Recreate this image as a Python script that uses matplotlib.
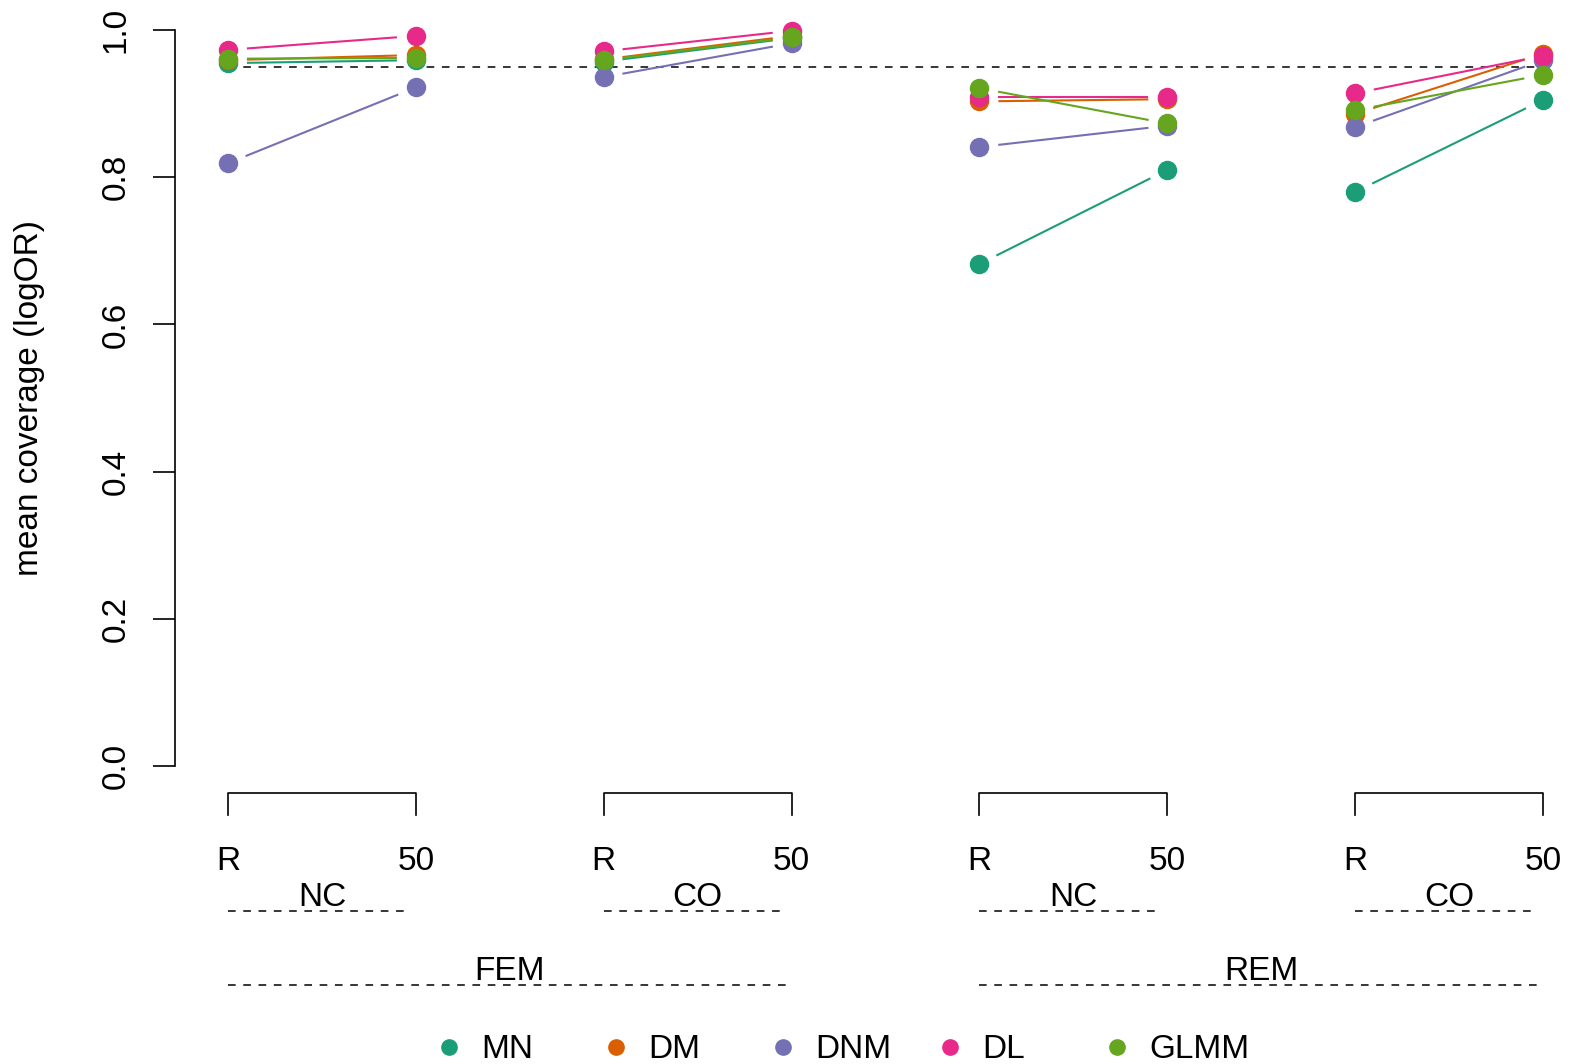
import numpy as np
import matplotlib
matplotlib.use("Agg")
import matplotlib.pyplot as plt

plt.rcParams['font.family'] = ['Liberation Sans', 'DejaVu Sans']

# x positions: R / 50 for NC, CO within FEM and REM
x_labels = ["R", "50", "R", "50", "R", "50", "R", "50"]
sub_groups = ["NC", "CO", "NC", "CO"]
main_groups = ["FEM", "REM"]

methods = ["MN", "DM", "DNM", "DL", "GLMM"]
colors = ["#1B9E77", "#D95F02", "#7570B3", "#E7298A", "#66A61E"]

MN = [0.955, 0.959, 0.957, 0.989, 0.682, 0.810, 0.780, 0.905]
DM = [0.959, 0.966, 0.960, 0.992, 0.903, 0.906, 0.886, 0.968]
DNM = [0.819, 0.922, 0.936, 0.982, 0.841, 0.870, 0.868, 0.959]
DL = [0.973, 0.992, 0.971, 0.999, 0.909, 0.909, 0.914, 0.965]
GLMM = [0.961, 0.962, 0.959, 0.990, 0.921, 0.873, 0.891, 0.939]
series = [MN, DM, DNM, DL, GLMM]

nominal = 0.95

W, H = 1570, 1064
fig = plt.figure(figsize=(W / 100, H / 100), dpi=100)
ax = fig.add_axes([175 / W, 1 - 766 / H, 1 - 175 / W, 736 / H])
ax.set_xlim(0.7179, 8.1437)
ax.set_ylim(0, 1)

xs = np.arange(1, len(x_labels) + 1)

ax.plot([xs[0], xs[-1]], [nominal, nominal], ls=(0, (5, 5)), color="black",
        lw=1.1, zorder=1, clip_on=False)

fs = 24
gap = 20  # px gap between line ends and marker centres (R type="b")


def gapped(x0, y0, x1, y1):
    p0 = ax.transData.transform((x0, y0))
    p1 = ax.transData.transform((x1, y1))
    d = p1 - p0
    L = np.hypot(*d)
    u = d / L
    q0 = ax.transData.inverted().transform(p0 + u * gap)
    q1 = ax.transData.inverted().transform(p1 - u * gap)
    return [q0[0], q1[0]], [q0[1], q1[1]]


for vals, col in zip(series, colors):
    for i in range(0, len(xs), 2):
        lx, ly = gapped(xs[i], vals[i], xs[i + 1], vals[i + 1])
        ax.plot(lx, ly, color=col, lw=1.5, zorder=2, clip_on=False)
    ax.plot(xs, vals, ls="none", marker="o", ms=13, color=col, mec=col,
            zorder=3, clip_on=False)

for s in ["top", "right", "bottom"]:
    ax.spines[s].set_visible(False)
ax.spines["left"].set_linewidth(1.2)
ax.set_xticks([])
ax.set_yticks(np.arange(0, 1.01, 0.2))
ax.set_yticklabels(["%.1f" % v for v in np.arange(0, 1.01, 0.2)],
                   rotation=90, va="center", fontsize=fs)
ax.tick_params(axis="y", length=16, width=1.2, pad=15)

fig.text(30 / W, 1 - 398 / H, "mean coverage (logOR)", rotation=90,
         ha="center", va="center", fontsize=fs)


def yv(py):
    return (766 - py) / 736


# brackets and labels below the axis
for i in range(0, len(xs), 2):
    ax.plot([xs[i], xs[i], xs[i + 1], xs[i + 1]],
            [yv(815), yv(793), yv(793), yv(815)], color="black", lw=1.2,
            clip_on=False)
for x, lab in zip(xs, x_labels):
    ax.text(x, yv(861), lab, ha="center", va="center", fontsize=fs)
for k, lab in enumerate(sub_groups):
    a, b = xs[2 * k], xs[2 * k + 1]
    ax.plot([a, b - 0.03], [yv(911), yv(911)], color="black", lw=1.1,
            ls=(0, (5, 5)), clip_on=False)
    ax.text((a + b) / 2, yv(898), lab, ha="center", va="center", fontsize=fs)
for k, lab in enumerate(main_groups):
    a, b = xs[4 * k], xs[4 * k + 3]
    ax.plot([a, b], [yv(985), yv(985)], color="black", lw=1.1,
            ls=(0, (5, 5)), clip_on=False)
    ax.text((a + b) / 2, yv(971), lab, ha="center", va="center", fontsize=fs)

# legend, evenly spaced like R horiz legend
leg_y = 1 - 1047 / H
for k, (m, col) in enumerate(zip(methods, colors)):
    x0 = (449 + 167 * k) / W
    fig.lines.append(plt.Line2D([x0], [leg_y], transform=fig.transFigure,
                                ls="none", marker="o", ms=11, color=col))
    fig.text(x0 + 32 / W, leg_y - 2 / H, m, ha="left", va="center", fontsize=fs)

fig.savefig("out.png", dpi=100)
